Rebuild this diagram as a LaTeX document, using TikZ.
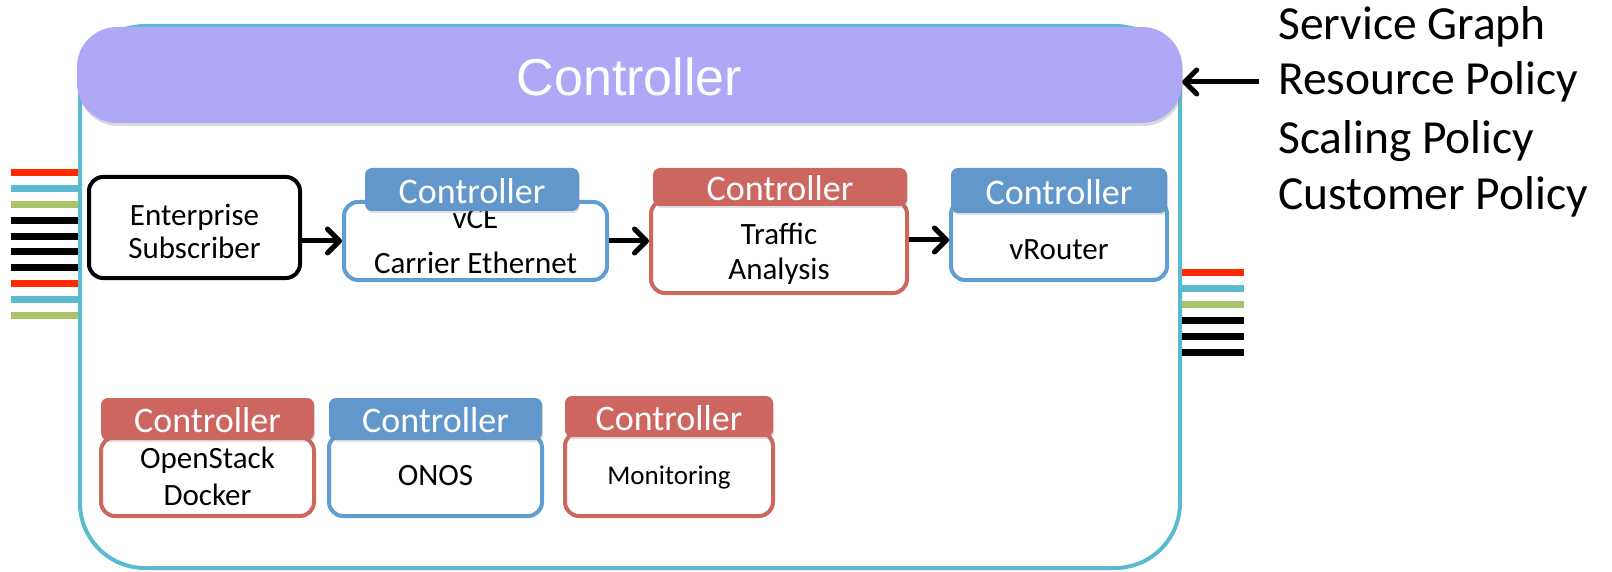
\documentclass[tikz,border=0pt]{standalone}
\usepackage{fontspec}
\setmainfont{Carlito}
\newfontfamily\arialfont{Liberation Sans}
\usetikzlibrary{arrows.meta,shadows}

\definecolor{lavender}{RGB}{175,168,247}
\definecolor{outercyan}{RGB}{92,186,208}
\definecolor{tabblue}{RGB}{97,151,202}
\definecolor{lineblue}{RGB}{95,158,210}
\definecolor{vnfred}{RGB}{205,102,95}
\definecolor{stubred}{RGB}{255,40,0}
\definecolor{stubgreen}{RGB}{168,197,106}

% label set lower than the node centre without changing the node's size
\newcommand\lowered[2]{\raisebox{-#1pt}[\height][\depth]{\begin{tabular}{@{}c@{}}#2\end{tabular}}}

\tikzset{
  vnf/.style={draw, line width=4pt, rounded corners=14pt, fill=white,
    inner sep=0pt, font=\fontsize{31}{33}\selectfont},
  tabbox/.style={rounded corners=7pt, text=white, inner sep=0pt,
    font=\fontsize{36}{38}\selectfont,
    drop shadow={shadow xshift=1pt, shadow yshift=-2pt, opacity=0.25}},
  policy/.style={anchor=west, inner sep=0pt, font=\fontsize{47.5}{50}\selectfont},
  flow/.style={line width=5pt, -{Straight Barb[length=12pt, width=24pt, line cap=round, line join=round]}},
  stub/.style={line width=7pt},
}

\begin{document}
\begin{tikzpicture}[x=1pt, y=-1pt]
\useasboundingbox (0,0) rectangle (1612,572);

% outer platform frame
\draw[outercyan, line width=4pt, rounded corners=65pt] (80,26) rectangle (1180,568);

% top-level controller bar
\node[fill=lavender, rounded corners=40pt, minimum width=1105pt, minimum height=96pt,
  inner sep=0pt, text=white, font=\arialfont\fontsize{52}{54}\selectfont,
  drop shadow={shadow xshift=1pt, shadow yshift=-3pt, opacity=0.3}]
  (ctrl) at (629.5,75) {\lowered{10}{Controller}};

% policy inputs
\node[policy] (sg) at (1278,27) {Service Graph};
\node[policy] (rp) at (1278,82) {Resource Policy};
\node[policy] (sp) at (1278,141) {Scaling Policy};
\node[policy] (cp) at (1278,197) {Customer Policy};
\draw[flow] ([xshift=-19pt]rp.west) -- (ctrl.east |- rp.west);

% service chain
\node[vnf, draw=black, minimum width=211pt, minimum height=101pt]
  (ent) at (194.5,227.5) {\lowered{8}{Enterprise\\Subscriber}};
\node[vnf, draw=lineblue, minimum width=263pt, minimum height=74pt]
  (vce) at (475.5,241) {\lowered{3.5}{vCE\\[12pt]Carrier Ethernet}};
\node[vnf, draw=vnfred, minimum width=256pt, minimum height=93pt]
  (ta) at (779,246.5) {\lowered{9}{Traffic\\[2pt]Analysis}};
\node[vnf, draw=lineblue, minimum width=216pt, minimum height=80pt]
  (vr) at (1059,240) {\lowered{13}{vRouter}};

\node[tabbox, fill=tabblue, minimum width=214pt, minimum height=43pt]
  (vcetab) at (472,189.5) {\lowered{6}{Controller}};
\node[tabbox, fill=vnfred, minimum width=254pt, minimum height=38pt]
  (tatab) at (780,187) {\lowered{6}{Controller}};
\node[tabbox, fill=tabblue, minimum width=216pt, minimum height=45pt]
  (vrtab) at (1059,190.5) {\lowered{6}{Controller}};

\draw[flow] (ent.east |- vce.center) -- (vce.west);
\draw[flow] (vce.east) -- (ta.west |- vce.east);
\draw[flow] (ta.east |- vr.center) -- (vr.west);

% infrastructure services
\node[vnf, draw=vnfred, minimum width=213pt, minimum height=79pt]
  (os) at (207.5,476.5) {\lowered{3.5}{OpenStack\\[4pt]Docker}};
\node[vnf, draw=lineblue, minimum width=213pt, minimum height=82pt]
  (onos) at (435.5,475) {\lowered{4}{ONOS}};
\node[vnf, draw=vnfred, minimum width=208pt, minimum height=84pt,
  font=\fontsize{27}{29}\selectfont]
  (mon) at (669,474) {\lowered{5}{Monitoring}};

\node[tabbox, fill=vnfred, minimum width=213pt, minimum height=42pt]
  (ostab) at (207.5,419) {\lowered{6}{Controller}};
\node[tabbox, fill=tabblue, minimum width=213pt, minimum height=42pt]
  (onostab) at (435.5,419) {\lowered{6}{Controller}};
\node[tabbox, fill=vnfred, minimum width=208pt, minimum height=41pt]
  (montab) at (669,416.5) {\lowered{6}{Controller}};

% ingress ports
\foreach \k/\c in {0/stubred,1/outercyan,2/stubgreen,3/black,4/black,
                   5/black,6/black,7/stubred,8/outercyan,9/stubgreen}
  \draw[stub, \c] (11,173+15.8*\k) -- (78,173+15.8*\k);

% egress ports
\foreach \y/\c in {272/stubred,288/outercyan,304/stubgreen,320/black,336/black,352/black}
  \draw[stub, \c] (1182,\y) -- (1244,\y);
\end{tikzpicture}
\end{document}
